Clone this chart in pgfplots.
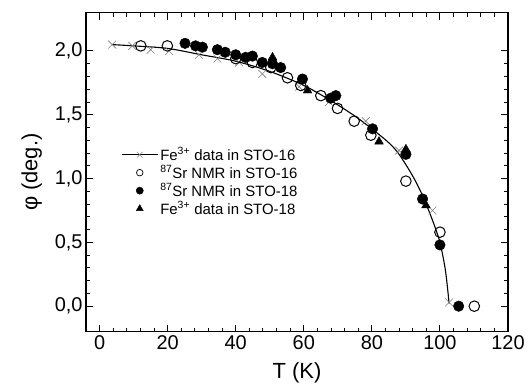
\documentclass[border=0pt]{standalone}
\usepackage{fontspec}
\setmainfont{Liberation Sans}
\usepackage{pgfplots}
\pgfplotsset{compat=1.18}
\begin{document}
\begin{tikzpicture}
\begin{axis}[
  width=422bp, height=319bp, scale only axis,
  xmin=-4, xmax=120, ymin=-0.2, ymax=2.3,
  xtick={0,20,...,120}, minor x tick num=4,
  ytick={0,0.5,1,1.5,2}, minor y tick num=4,
  tick align=inside, xtick pos=both, ytick pos=both,
  xticklabel pos=bottom, yticklabel pos=left,
  major tick length=7bp, minor tick length=4bp,
  every tick/.style={black, line width=1bp},
  axis line style={line width=1.4bp},
  tick label style={font=\fontsize{20}{20}\selectfont},
  /pgf/number format/assume math mode=true,
  yticklabel style={/pgf/number format/fixed, /pgf/number format/fixed zerofill, /pgf/number format/precision=1, /pgf/number format/use comma},
  xlabel={T (K)}, ylabel={φ (deg.)},
  label style={font=\fontsize{22}{22}\selectfont},
  xlabel style={yshift=-6bp},
  ylabel style={yshift=6bp},
  legend style={at={(0.076,0.59)}, anchor=north west, draw=none, fill=none,
    font=\fontsize{15}{16}\selectfont, row sep=0bp,
    legend image code/.code={\draw[#1, mark repeat=2, mark phase=2] plot coordinates {(0bp,0bp)(18bp,0bp)(36bp,0bp)};}},
  legend cell align=left,
]
\addlegendimage{black, line width=1bp, mark=x, mark options={gray, mark size=4bp, line width=0.5bp}}
\addlegendentry{Fe\textsuperscript{3+} data in STO-16}
\addlegendimage{only marks, mark=o, mark size=3.3bp, mark options={black, fill=white, line width=0.7bp}}
\addlegendentry{\textsuperscript{87}Sr NMR in STO-16}
\addlegendimage{only marks, mark=*, mark size=3.6bp, mark options={black, fill=black}}
\addlegendentry{\textsuperscript{87}Sr NMR in STO-18}
\addlegendimage{only marks, mark=triangle*, mark size=4bp, mark options={black, fill=black}}
\addlegendentry{Fe\textsuperscript{3+} data in STO-18}

% fit line
\addplot[black, line width=1.1bp, smooth, forget plot] coordinates {
(3.7,2.05)(10,2.04)(20,2.02)(30,1.97)(40,1.92)(50,1.84)(60,1.73)(68,1.61)(75,1.49)(80,1.39)(85,1.28)(88,1.19)(92,1.02)(95,0.86)(98,0.66)(100,0.50)(101.5,0.30)(102.2,0.15)(102.7,0.02)};
% Fe3+ STO-16 crosses
\addplot[only marks, mark=x, mark size=5.5bp, mark options={gray, line width=0.6bp}, forget plot] coordinates {
(3.7,2.05)(9.6,2.04)(15,2.01)(20.4,2.0)(29.2,1.97)(34.6,1.94)(41,1.91)(47.8,1.82)(58.6,1.72)(67.4,1.60)(78.2,1.45)(88,1.22)(97.8,0.75)(102.7,0.03)};
% Fe3+ STO-18 triangles
\addplot[only marks, mark=triangle*, mark size=5bp, mark options={black, fill=black}, forget plot] coordinates {
(50.8,1.95)(61.1,1.69)(82.1,1.29)(90,1.23)(95.9,0.79)};
% 87Sr STO-18 filled circles
\addplot[only marks, mark=*, mark size=5.3bp, mark options={black, fill=black}, forget plot] coordinates {
(25.1,2.06)(28.2,2.04)(30.2,2.03)(34.6,2.01)(36.9,1.99)(40,1.97)(42.9,1.95)(44.9,1.96)(47.8,1.91)(50.8,1.90)(53.2,1.87)(59.6,1.78)(67.9,1.63)(69.4,1.65)(80.2,1.39)(90,1.19)(94.9,0.84)(100,0.48)(105.5,0.0)};
% 87Sr STO-16 open circles
\addplot[only marks, mark=o, mark size=5.3bp, mark options={black, fill=white, line width=1bp}, forget plot] coordinates {
(12.1,2.04)(19.9,2.04)(40,1.94)(44.9,1.91)(50.3,1.87)(55.2,1.79)(59.1,1.73)(65,1.65)(69.9,1.55)(74.8,1.45)(79.7,1.34)(90,0.98)(100,0.58)(110.1,0.0)};
\end{axis}
\pgfresetboundingbox
\path ([shift={(-86bp,-57.3bp)}]current axis.south west) rectangle ([shift={(19bp,12.7bp)}]current axis.north east);
\end{tikzpicture}
\end{document}
